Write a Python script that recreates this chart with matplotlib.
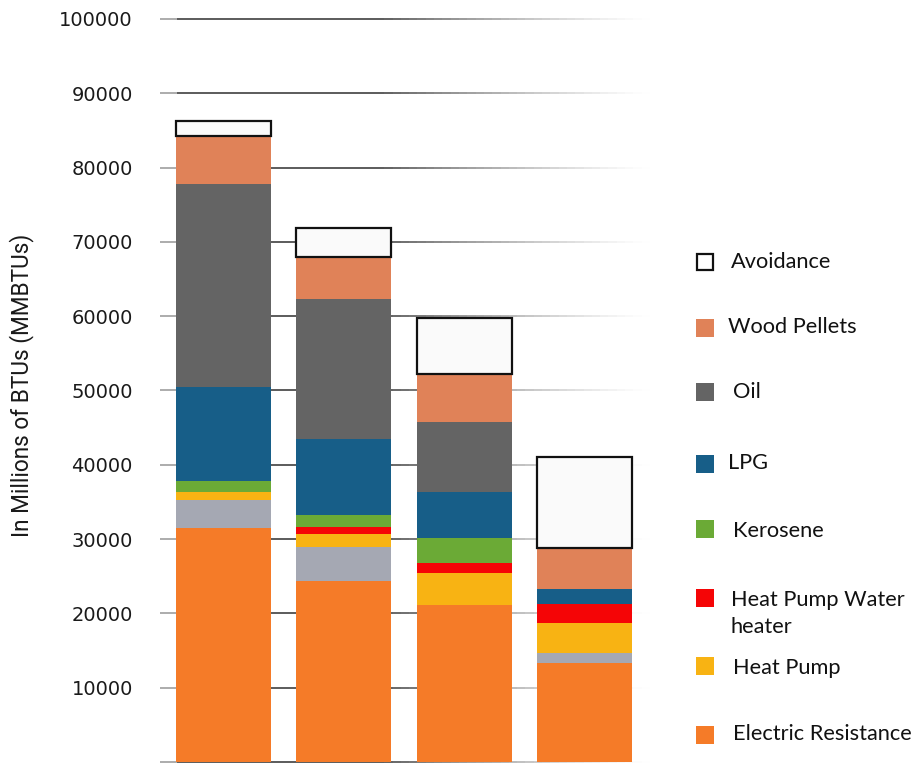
import numpy as np
import matplotlib
matplotlib.use("Agg")
import matplotlib.pyplot as plt
from matplotlib.collections import LineCollection
from matplotlib.patches import Rectangle

# Energy use per scenario, in MMBTUs (stacked bottom to top)
electric_resistance = [31500, 24300, 21100, 13300]
other_electric = [3700, 4700, 0, 1400]
heat_pump = [1200, 1700, 4400, 4000]
hp_water_heater = [0, 900, 1300, 2500]
kerosene = [1400, 1700, 3300, 0]
lpg = [12700, 10200, 6300, 2100]
oil = [27300, 18800, 9300, 0]
wood_pellets = [6400, 5700, 6500, 5500]
avoidance = [2100, 3900, 7500, 12200]

y_ticks = [10000, 20000, 30000, 40000, 50000, 60000, 70000, 80000, 90000, 100000]
legend_labels = ["Avoidance", "Wood Pellets", "Oil", "LPG", "Kerosene",
                 "Heat Pump Water\nheater", "Heat Pump", "Electric Resistance"]

colors = {
    "er": "#F57B28",
    "other": "#A5A8B3",
    "hp": "#F8B313",
    "hpwh": "#F50506",
    "kero": "#6BAA36",
    "lpg": "#175E88",
    "oil": "#646464",
    "wood": "#E08258",
    "avoid": "#FAFAFA",
}

W, H = 916, 763
fig = plt.figure(figsize=(W / 100, H / 100), dpi=100)
ax = fig.add_axes([160 / W, (H - 762) / H, 490 / W, (762 - 19) / H])

x = np.arange(4)
width = 0.79
stack = [
    (electric_resistance, colors["er"]),
    (other_electric, colors["other"]),
    (heat_pump, colors["hp"]),
    (hp_water_heater, colors["hpwh"]),
    (kerosene, colors["kero"]),
    (lpg, colors["lpg"]),
    (oil, colors["oil"]),
    (wood_pellets, colors["wood"]),
]
bottom = np.zeros(4)
for vals, c in stack:
    v = np.array(vals, dtype=float)
    ax.bar(x, v, width, bottom=bottom, color=c, linewidth=0, zorder=3)
    bottom += v
ax.bar(x, avoidance, width, bottom=bottom, color=colors["avoid"],
       edgecolor="#111111", linewidth=1.6, zorder=4)

ax.set_xlim(-0.528, 3.544)
ax.set_ylim(0, 100000)

# horizontal rules that fade out towards the right
trans = ax.get_yaxis_transform()
xs = np.linspace(0, 1, 60)
for yv in [0] + y_ticks:
    segs = [[(xs[i], yv), (xs[i + 1], yv)] for i in range(len(xs) - 1)]
    mid = (xs[:-1] + xs[1:]) / 2
    alpha = np.where(mid < 0.45, 1.0, np.clip(1 - (mid - 0.45) / 0.55, 0, 1) ** 1.3)
    alpha = np.where(mid < 0.03, 0.5, alpha)
    cols = [(0.25, 0.25, 0.25, a) for a in alpha]
    lc = LineCollection(segs, colors=cols, linewidths=1.2, transform=trans,
                        zorder=1, clip_on=False, capstyle="butt")
    ax.add_collection(lc)

for s in ax.spines.values():
    s.set_visible(False)
ax.set_xticks([])
ax.set_yticks(y_ticks)
ax.set_yticklabels([str(t) for t in y_ticks])
ax.tick_params(axis="y", length=0, pad=19.5, labelsize=14, labelcolor="#1a1a1a")
for lbl in ax.get_yticklabels():
    lbl.set_fontfamily("DejaVu Sans")

fig.text(22 / W, 1 - 385 / H, "In Millions of BTUs (MMBTUs)", rotation=90,
         ha="center", va="center", fontsize=16.3, color="#1a1a1a",
         family=["Liberation Sans Narrow", "Roboto", "DejaVu Sans"])

# legend drawn by hand at fixed rows
legend_colors = [colors["avoid"], colors["wood"], colors["oil"], colors["lpg"],
                 colors["kero"], colors["hpwh"], colors["hp"], colors["er"]]
marker_y = [262, 328, 392, 464, 529, 598, 666, 735]
text_y = [262, 327, 392, 463, 531, 613.5, 668, 734]
text_x = [731, 728, 733, 728, 733, 731, 733, 733]
sq = 18
for i, lab in enumerate(legend_labels):
    my = marker_y[i]
    if i == 0:
        r = Rectangle((697 / W, 1 - (my + 8) / H), 16 / W, 16 / H,
                      transform=fig.transFigure, facecolor="white",
                      edgecolor="#111111", linewidth=1.6)
    else:
        r = Rectangle((696 / W, 1 - (my + sq / 2) / H), sq / W, sq / H,
                      transform=fig.transFigure, facecolor=legend_colors[i],
                      edgecolor="none")
    fig.add_artist(r)
    fig.text(text_x[i] / W, 1 - text_y[i] / H, lab, ha="left", va="center",
             fontsize=15.7, color="#111111", family=["Lato", "DejaVu Sans"],
             linespacing=1.38)

fig.savefig("out.png", dpi=100, facecolor="white")
